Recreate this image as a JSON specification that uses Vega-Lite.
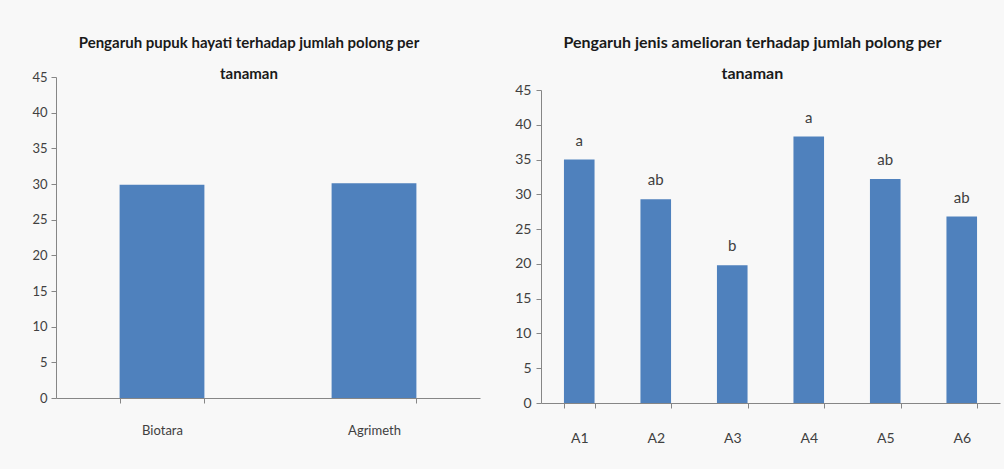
{
  "$schema": "https://vega.github.io/schema/vega-lite/v6.json",
  "background": "#f8f8f8",
  "padding": {"left": 31, "top": 35, "right": 6, "bottom": 26},
  "spacing": 34,
  "datasets": {
    "hayati": [
      {"pupuk": "Biotara", "polong": 29.9},
      {"pupuk": "Agrimeth", "polong": 30.1}
    ],
    "amelioran": [
      {"jenis": "A1", "polong": 35.0, "notasi": "a"},
      {"jenis": "A2", "polong": 29.3, "notasi": "ab"},
      {"jenis": "A3", "polong": 19.8, "notasi": "b"},
      {"jenis": "A4", "polong": 38.3, "notasi": "a"},
      {"jenis": "A5", "polong": 32.2, "notasi": "ab"},
      {"jenis": "A6", "polong": 26.8, "notasi": "ab"}
    ]
  },
  "config": {
    "view": {"stroke": null},
    "font": "Lato",
    "axis": {
      "domainColor": "#868686",
      "tickColor": "#868686",
      "labelColor": "#404040",
      "labelFont": "Lato",
      "grid": false,
      "title": null
    },
    "title": {
      "font": "Lato",
      "fontWeight": "bold",
      "color": "#1a1a1a",
      "lineHeight": 31,
      "anchor": "middle",
      "frame": "bounds"
    }
  },
  "hconcat": [
    {
      "title": {"text": ["Pengaruh pupuk hayati terhadap  jumlah polong per", "tanaman"], "fontSize": 15, "offset": -11, "dx": -7},
      "width": 424,
      "height": 321,
      "data": {"name": "hayati"},
      "mark": {"type": "bar", "color": "#4f81bd"},
      "encoding": {
        "x": {
          "field": "pupuk", "type": "nominal", "sort": null,
          "scale": {"paddingInner": 0.6, "paddingOuter": 0.3},
          "axis": {"labelAngle": 0, "tickBand": "extent", "labelPadding": 21, "tickSize": 5, "labelFontSize": 13, "title": null}
        },
        "y": {
          "field": "polong", "type": "quantitative",
          "scale": {"domain": [0, 45], "nice": false},
          "axis": {"values": [0, 5, 10, 15, 20, 25, 30, 35, 40, 45], "labelFontSize": 13, "tickSize": 5, "labelPadding": 4, "title": null}
        }
      }
    },
    {
      "title": {"text": ["Pengaruh jenis amelioran terhadap jumlah polong per", "tanaman"], "fontSize": 16, "offset": -5, "dx": -5},
      "width": 459,
      "height": 326,
      "data": {"name": "amelioran"},
      "encoding": {
        "x": {
          "field": "jenis", "type": "nominal", "sort": null,
          "scale": {"paddingInner": 0.6, "paddingOuter": 0.3},
          "axis": {"labelAngle": 0, "tickBand": "extent", "labelPadding": 23, "tickSize": 5, "labelFontSize": 14, "title": null}
        },
        "y": {
          "field": "polong", "type": "quantitative",
          "scale": {"domain": [0, 45], "nice": false, "range": [326, 13]},
          "axis": {"values": [0, 5, 10, 15, 20, 25, 30, 35, 40, 45], "labelFontSize": 14, "tickSize": 5, "labelPadding": 5, "title": null}
        }
      },
      "layer": [
        {"mark": {"type": "bar", "color": "#4f81bd"}},
        {
          "mark": {"type": "text", "baseline": "alphabetic", "dy": -14, "fontSize": 15, "color": "#404040", "font": "Lato"},
          "encoding": {"text": {"field": "notasi", "type": "nominal"}}
        }
      ]
    }
  ]
}
